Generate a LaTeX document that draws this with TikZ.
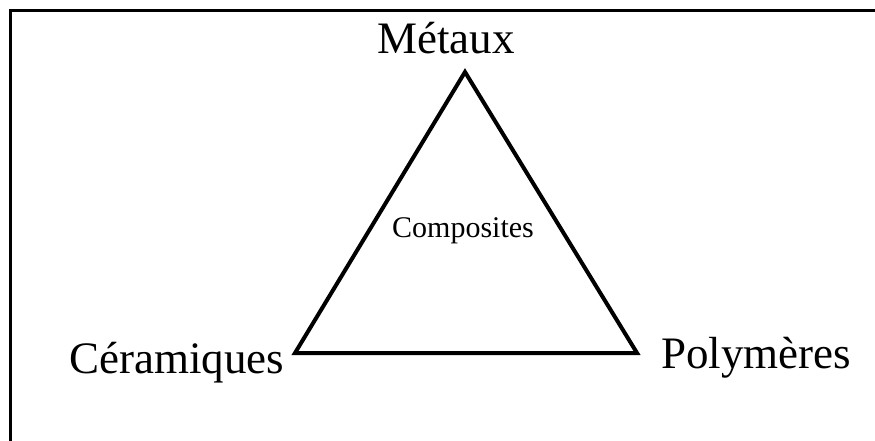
\documentclass[tikz,border=0pt]{standalone}
\usepackage{fontspec}
\setmainfont{Liberation Serif}
\usepackage{tikz}
\usetikzlibrary{calc, positioning}

\tikzset{
    bigLabel/.style={inner sep=0pt, anchor=base west, font=\fontsize{45}{50}\selectfont},
    smallLabel/.style={inner sep=0pt, anchor=base west, font=\fontsize{30}{34}\selectfont},
}

\begin{document}
\begin{tikzpicture}[x=1pt, y=-1pt]

    % =================================================================
    % 1. CADRE DE LA FIGURE
    % =================================================================
    \useasboundingbox (0,0) rectangle (875,441);
    \draw[line width=2.5pt] (875,10.5) -- (10.5,10.5) -- (10.5,441);

    % =================================================================
    % 2. SOMMETS DU TRIANGLE
    % =================================================================
    \coordinate (Apex) at (465,72);
    \coordinate (BottomLeft) at (295,353);
    \coordinate (BottomRight) at (637,353);

    \draw[line width=4pt, line join=miter] (Apex) -- (BottomLeft) -- (BottomRight) -- cycle;

    % =================================================================
    % 3. NOMS DES FAMILLES DE MATERIAUX
    % =================================================================
    \node[bigLabel] (LabelMetaux) at (377,54) {Métaux};
    \node[bigLabel] (LabelCeramiques) at (69,373) {Céramiques};
    \node[bigLabel] (LabelPolymeres) at (661,368) {Polymères};
    \node[smallLabel] (LabelComposites) at (392,237) {Composites};

\end{tikzpicture}
\end{document}
